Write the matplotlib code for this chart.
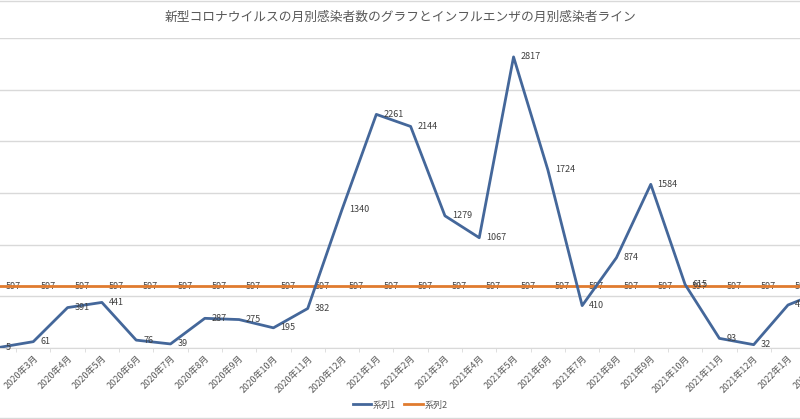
import matplotlib.pyplot as plt
from matplotlib.lines import Line2D
import numpy as np

plt.rcParams['font.family'] = ['Noto Sans CJK JP', 'DejaVu Sans']

# monthly data, 2020年2月 .. 2022年2月 (first and last partly cut off in the view)
months = ['2020年2月', '2020年3月', '2020年4月', '2020年5月', '2020年6月', '2020年7月',
          '2020年8月', '2020年9月', '2020年10月', '2020年11月', '2020年12月',
          '2021年1月', '2021年2月', '2021年3月', '2021年4月', '2021年5月', '2021年6月',
          '2021年7月', '2021年8月', '2021年9月', '2021年10月', '2021年11月',
          '2021年12月', '2022年1月', '2022年2月']
covid = [5, 61, 391, 441, 76, 39, 287, 275, 195, 382, 1340,
         2261, 2144, 1279, 1067, 2817, 1724, 410, 874, 1584, 615, 93,
         32, 416, 550]
flu = [597] * len(months)

title = '新型コロナウイルスの月別感染者数のグラフとインフルエンザの月別感染者ライン'

blue = '#44679a'
orange = '#e07b2f'
grey_txt = '#595959'
grid_c = '#d9d9d9'

fig = plt.figure(figsize=(8, 4.19), dpi=100)
ax = fig.add_axes([0, 0.1695, 1, 0.7398])

x = np.arange(len(months))
ax.plot(x, flu, color=orange, lw=2.0, label='系列2', zorder=3)
ax.plot(x, covid, color=blue, lw=2.0, label='系列1', zorder=4)

# data labels to the right of each point (Excel "right" position)
for i in x:
    ax.annotate(str(flu[i]), (i, flu[i]), xytext=(5, 0), textcoords='offset points',
                ha='left', va='center', fontsize=6.5, color='#404040', zorder=2,
                annotation_clip=False)
    ax.annotate(str(covid[i]), (i, covid[i]), xytext=(5, 0), textcoords='offset points',
                ha='left', va='center', fontsize=6.5, color='#404040', zorder=5,
                annotation_clip=False)

ax.set_yticks(np.arange(0, 3001, 500))
ax.yaxis.grid(True, color=grid_c, lw=1)
ax.set_axisbelow(True)
ax.tick_params(axis='y', left=False, labelleft=False)

ax.set_xticks(x)
ax.set_xticklabels(months, rotation=45, ha='right', va='top', rotation_mode='anchor',
                   fontsize=6.5, color=grey_txt)
ax.tick_params(axis='x', which='major', length=0, pad=4)
ax.set_xticks(x + 0.5, minor=True)
ax.tick_params(axis='x', which='minor', length=3, color=grid_c)

# limits after the ticks, so the tick setters do not widen the view
ax.set_ylim(0, 3000)
ax.set_xlim(0.03, 23.35)

# last month's label sits past the view, only its start shows at the edge
ax.annotate(months[-1], (x[-1], 0), xycoords=('data', 'axes fraction'),
            xytext=(0, -4), textcoords='offset points', rotation=45,
            ha='right', va='top', rotation_mode='anchor', fontsize=6.5,
            color=grey_txt, annotation_clip=False)

for s in ['top', 'left', 'right']:
    ax.spines[s].set_visible(False)
ax.spines['bottom'].set_color(grid_c)

fig.text(0.5, 1 - 17 / 419, title, ha='center', va='center', fontsize=9.2, color=grey_txt)

handles = [Line2D([], [], color=blue, lw=2), Line2D([], [], color=orange, lw=2)]
fig.legend(handles, ['系列1', '系列2'], loc='center', bbox_to_anchor=(0.5, 1 - 405 / 419),
           ncol=2, frameon=False, fontsize=6.5, labelcolor=grey_txt,
           handlelength=2.0, handletextpad=0.2, columnspacing=1.0)

fig.add_artist(Line2D([0, 1], [1 - 1 / 419, 1 - 1 / 419], color=grid_c, lw=1))
fig.add_artist(Line2D([0, 1], [1 - 417.5 / 419, 1 - 417.5 / 419], color=grid_c, lw=1))

fig.savefig('out.png', dpi=100)
